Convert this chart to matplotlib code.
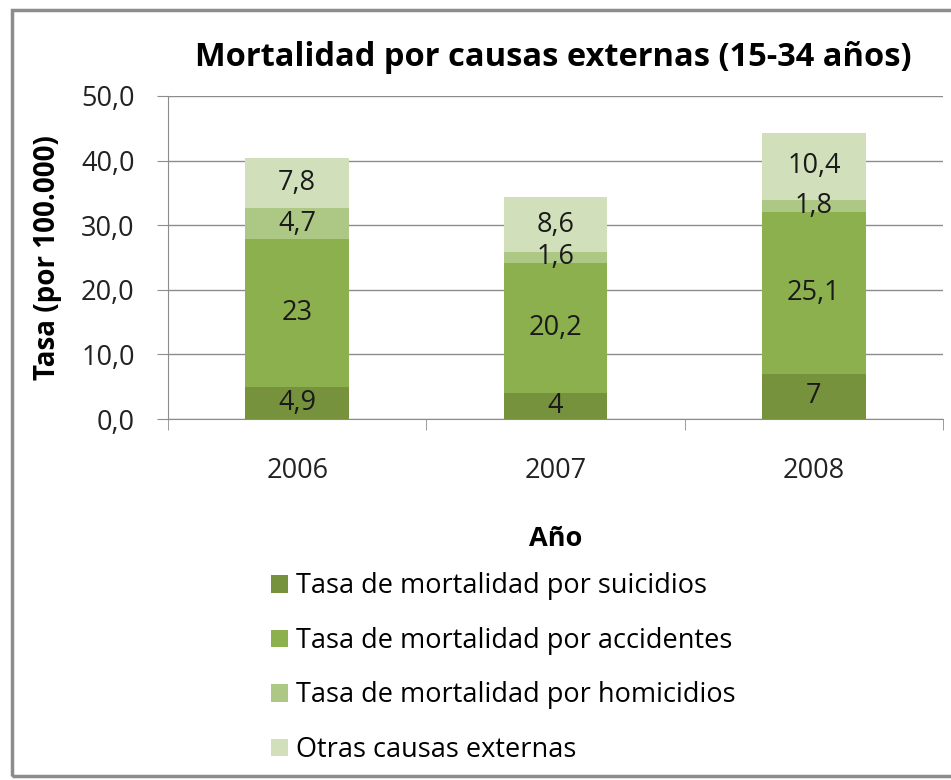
import matplotlib

matplotlib.use("Agg")
import matplotlib.pyplot as plt
from matplotlib.patches import Rectangle

years = ["2006", "2007", "2008"]
suicidios = [4.9, 4.0, 7.0]
accidentes = [23.0, 20.2, 25.1]
homicidios = [4.7, 1.6, 1.8]
otras = [7.8, 8.6, 10.4]
series_labels = [
    "Tasa de mortalidad por suicidios",
    "Tasa de mortalidad por accidentes",
    "Tasa de mortalidad por homicidios",
    "Otras causas externas",
]
value_text = [
    ["4,9", "4", "7"],
    ["23", "20,2", "25,1"],
    ["4,7", "1,6", "1,8"],
    ["7,8", "8,6", "10,4"],
]
yticks = [0, 10, 20, 30, 40, 50]
ytick_labels = ["0,0", "10,0", "20,0", "30,0", "40,0", "50,0"]

colors = ["#76923C", "#8DB04F", "#ADC785", "#D1DFBA"]

plt.rcParams["font.family"] = ["Open Sans", "DejaVu Sans"]
fs = 19.5

fig = plt.figure(figsize=(9.51, 7.8), dpi=100)
fig.patches.append(Rectangle((12 / 951, 4 / 780), 1.0, 766 / 780, transform=fig.transFigure,
                             fill=False, edgecolor="#8c8c8c", linewidth=2.5))

ax = fig.add_axes([168 / 951, 1 - 419 / 780, (943 - 168) / 951, (419 - 96) / 780])
x = list(range(len(years)))
bottom = [0.0] * len(years)
for vals, col, lab, txt in zip([suicidios, accidentes, homicidios, otras], colors, series_labels, value_text):
    ax.bar(x, vals, width=0.4, bottom=bottom, color=col, label=lab, zorder=3)
    for xi, b, v, t in zip(x, bottom, vals, txt):
        ax.text(xi, b + v / 2, t, ha="center", va="center", fontsize=fs, color="#1a1a1a", zorder=4)
    bottom = [b + v for b, v in zip(bottom, vals)]

ax.set_xlim(-0.5, 2.5)
ax.set_ylim(0, 50)
ax.set_yticks(yticks)
ax.set_yticklabels(ytick_labels, fontsize=fs, color="#222222")
ax.set_xticks(x)
ax.set_xticklabels(years, fontsize=fs, color="#222222")
ax.tick_params(axis="x", length=0, pad=27)
ax.tick_params(axis="y", length=8, color="#8c8c8c", pad=16)
# category boundary ticks on x axis
ax.set_xticks([-0.5, 0.5, 1.5, 2.5], minor=True)
ax.tick_params(axis="x", which="minor", length=8, color="#8c8c8c")
ax.grid(axis="y", color="#8c8c8c", linewidth=1.0, zorder=0)
for side in ["top", "right"]:
    ax.spines[side].set_visible(False)
ax.spines["left"].set_color("#8c8c8c")
ax.spines["bottom"].set_color("#8c8c8c")

ax.set_ylabel("Tasa (por 100.000)", fontsize=20, fontweight="bold", labelpad=14)
ax.set_xlabel("Año", fontsize=fs, fontweight="bold", labelpad=30)
fig.text(553 / 951, 1 - 58 / 780, "Mortalidad por causas externas (15-34 años)",
         ha="center", va="center", fontsize=23.5, fontweight="bold")

handles, labels = ax.get_legend_handles_labels()
fig.legend(handles, labels, loc="upper left", bbox_to_anchor=(247 / 951, 1 - 548 / 780),
           frameon=False, fontsize=fs, handlelength=0.62, handleheight=0.62,
           handletextpad=0.3, labelspacing=0.98)

fig.savefig("out.png", dpi=100)
